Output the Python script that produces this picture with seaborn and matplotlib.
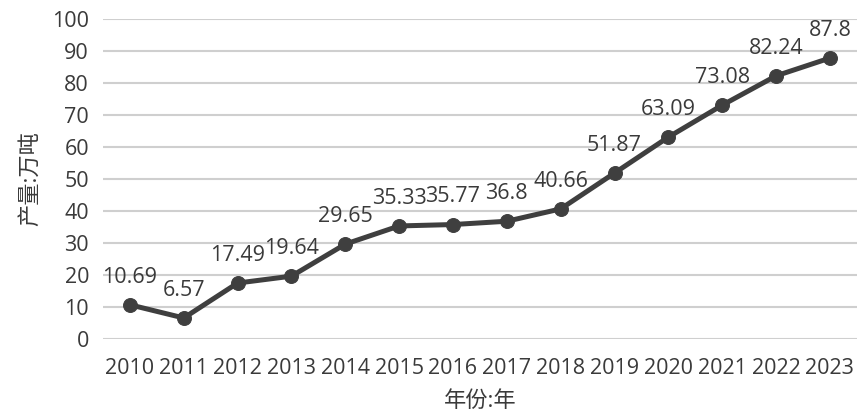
import numpy as np
import pandas as pd
import matplotlib.pyplot as plt
import seaborn as sns

# data
years = [2010, 2011, 2012, 2013, 2014, 2015, 2016, 2017, 2018, 2019, 2020, 2021, 2022, 2023]
output = [10.69, 6.57, 17.49, 19.64, 29.65, 35.33, 35.77, 36.8, 40.66, 51.87, 63.09, 73.08, 82.24, 87.8]
labels = ['10.69', '6.57', '17.49', '19.64', '29.65', '35.33', '35.77', '36.8', '40.66',
          '51.87', '63.09', '73.08', '82.24', '87.8']

df = pd.DataFrame({'year': years, 'output': output})

sns.set_style('white')
plt.rcParams['font.family'] = ['Open Sans', 'Noto Sans CJK SC', 'DejaVu Sans']

fig = plt.figure(figsize=(8.62, 4.18), dpi=100)
ax = fig.add_axes([0.1195, 0.189, 0.8745, 0.7655])

line_col = '#3f3f3f'
text_col = '#3a3a3a'

sns.lineplot(data=df, x='year', y='output', ax=ax, color=line_col, lw=3.6,
             marker='o', markersize=10, markeredgecolor=line_col, zorder=3)

# value labels above each point
for x, y, t in zip(years, output, labels):
    ax.annotate(t, (x, y), xytext=(0, 20), textcoords='offset points',
                ha='center', va='center', fontsize=15.5, color=text_col)

ax.set_xlim(2009.5, 2023.5)
ax.set_ylim(0, 100)
ax.set_xticks(years)
ax.set_xticklabels([str(y) for y in years])
ax.set_yticks(range(0, 101, 10))
ax.tick_params(axis='x', length=0, labelsize=15.5, labelcolor=text_col, pad=14)
ax.tick_params(axis='y', length=0, labelsize=15.5, labelcolor=text_col, pad=10)
ax.yaxis.grid(True, color='#cfcfcf', lw=1.5)
ax.set_axisbelow(True)
for s in ax.spines.values():
    s.set_visible(False)

ax.set_ylabel('产量:万吨', fontsize=16, color=text_col, labelpad=8)
ax.set_xlabel('年份:年', fontsize=16, color=text_col, labelpad=8)

plt.savefig('out.png', dpi=100)
